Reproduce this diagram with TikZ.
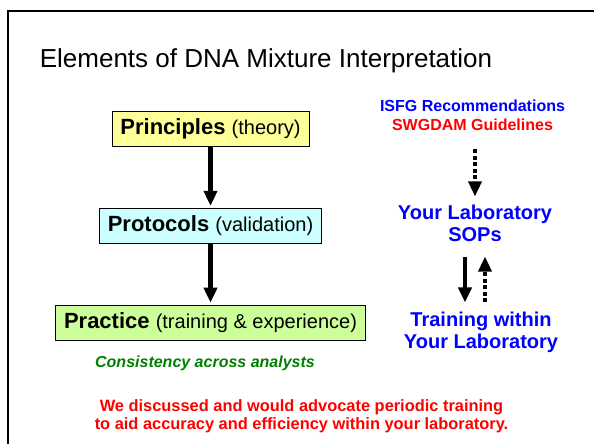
\documentclass[tikz,border=0pt]{standalone}
\usepackage{fontspec}
\setmainfont{Liberation Sans}
\usetikzlibrary{positioning,arrows.meta}
\definecolor{StageYellow}{HTML}{FFFF99}
\definecolor{StageCyan}{HTML}{CCFFFF}
\definecolor{StageGreen}{HTML}{CCFF99}
\definecolor{NoteGreen}{HTML}{008000}
\newcommand{\Aside}{\fontsize{20}{22}\selectfont\mdseries}
\tikzset{
  stage/.style={draw=black, line width=0.8pt, inner sep=0pt, minimum height=35pt,
               align=center, font=\fontsize{22}{26}\selectfont\bfseries},
  stageyellow/.style={stage, fill=StageYellow},
  stagecyan/.style={stage, fill=StageCyan},
  stagegreen/.style={stage, fill=StageGreen},
  lab/.style={inner sep=1pt, align=center, text=blue, font=\fontsize{20}{22}\selectfont\bfseries},
  remark/.style={inner sep=1pt, align=center, font=\fontsize{16}{18}\selectfont\bfseries},
  flow/.style={-{Triangle[length=15pt,width=13pt]}, line width=4.3pt},
  dotflow/.style={flow, line width=3.5pt, dash pattern=on 4pt off 2.5pt},
}

\begin{document}
\begin{tikzpicture}[x=1pt,y=-1pt]
  \useasboundingbox[fill=white] (0,0) rectangle (594,444);
  % slide frame
  \draw[line width=2pt] (8,460) |- (610,11);
  \node[anchor=base, inner sep=0pt, font=\fontsize{26}{30}\selectfont] (title) at (266,67)
    {Elements of DNA Mixture Interpretation};

  % left column
  \node[stageyellow, minimum width=197pt] (principles) at (210.5,129)
    {Principles {\Aside(theory)}};
  \node[stagecyan, minimum width=222pt, below=61pt of principles] (protocols)
    {Protocols {\Aside(validation)}};
  \node[stagegreen, minimum width=310pt, below=61pt of protocols] (practice)
    {Practice {\Aside(training \& experience)}};
  \draw[flow, shorten >=2pt] (principles) -- (protocols);
  \draw[flow, shorten >=2pt] (protocols) -- (practice);
  \node[remark, text=NoteGreen, font=\fontsize{16}{18}\selectfont\bfseries\itshape] (consist)
    at (205,363) {Consistency across analysts};

  % right column
  \node[remark, text=blue] (isfg) at (472.5,106) {ISFG Recommendations};
  \node[remark, text=red, below=5pt of isfg] (swgdam) {SWGDAM Guidelines};
  \node[lab] (sops) at (475,223) {Your Laboratory\\SOPs};
  \node[lab] (trainlab) at (481,332) {Training within\\Your Laboratory};
  \draw[dotflow, shorten <=17pt, shorten >=7pt] (swgdam.south -| sops) -- (sops.north);
  \draw[flow, shorten <=14pt, shorten >=8pt]
    ([xshift=-10pt]sops.south) -- ([xshift=-10pt]sops.south |- trainlab.north);
  \draw[dotflow, shorten <=8pt, shorten >=14pt]
    ([xshift=10pt]sops.south |- trainlab.north) -- ([xshift=10pt]sops.south);

  \node[remark, text=red, font=\fontsize{16.4}{18}\selectfont\bfseries] (note) at (301.5,416)
    {We discussed and would advocate periodic training\\to aid accuracy and efficiency within your laboratory.};
\end{tikzpicture}
\end{document}
